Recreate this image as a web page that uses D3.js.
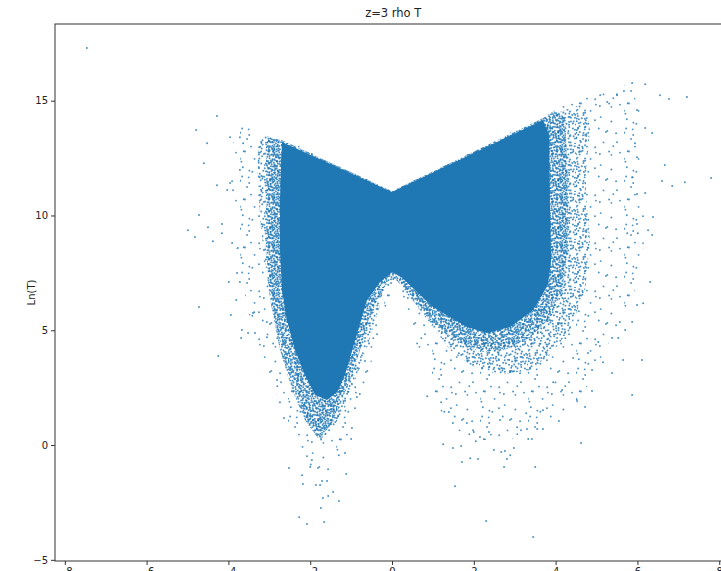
<!DOCTYPE html>
<html>
<head>
<meta charset="utf-8">
<script src="https://cdn.jsdelivr.net/npm/d3@7"></script>
<style>
  body { margin: 0; background: #fff; }
  text { font-family: "DejaVu Sans", sans-serif; }
</style>
</head>
<body>
<script>
// Axis extents and ticks
const xDomain = [-8.24, 8.3];
const yDomain = [-5.05, 18.34];
const xTicks = [-8, -6, -4, -2, 0, 2, 4, 6, 8];
const yTicks = [-5, 0, 5, 10, 15];

// Saturated core of the rho–T cloud (x = rho, y = Ln(T))
const coreOutline = [
  [-2.69, 13.20], [0, 11.02], [3.69, 14.16], [3.84, 13.50], [3.86, 10.67],
  [3.89, 8.06], [3.81, 6.97], [3.45, 5.88], [2.89, 5.14], [2.32, 4.88],
  [1.83, 5.14], [1.00, 6.01], [0.56, 6.75], [0.20, 7.36], [0, 7.53],
  [-0.29, 7.10], [-0.61, 6.32], [-0.78, 5.31], [-0.95, 4.27], [-1.15, 3.05],
  [-1.34, 2.31], [-1.59, 1.96], [-1.88, 2.18], [-2.13, 3.05], [-2.37, 4.14],
  [-2.57, 5.44], [-2.69, 6.75], [-2.74, 8.49], [-2.74, 10.67], [-2.71, 12.41]
];

// Heavily populated band hugging the core
const nearFringe = [
  [-3.03, 13.37], [-2.69, 13.28], [0, 11.06], [3.69, 14.24], [3.99, 14.59],
  [4.23, 14.24], [4.30, 11.54], [4.30, 8.49], [4.16, 6.75], [3.86, 5.53],
  [3.37, 4.66], [2.76, 4.14], [2.15, 4.05], [1.54, 4.57], [0.93, 5.44],
  [0.49, 6.32], [0.15, 7.10], [0, 7.36], [-0.10, 7.10], [-0.37, 6.32],
  [-0.59, 5.36], [-0.78, 4.14], [-0.98, 3.05], [-1.22, 1.96], [-1.47, 0.87],
  [-1.81, 0.30], [-2.13, 1.09], [-2.44, 2.40], [-2.74, 4.14], [-2.98, 6.32],
  [-3.08, 8.49], [-3.08, 11.54], [-3.08, 13.07]
];

// Densely populated fringe around the core
const denseFringe = [
  [-3.18, 13.50], [-2.69, 13.28], [0, 11.06], [3.69, 14.24], [4.23, 14.59],
  [4.72, 14.90], [4.84, 13.72], [4.72, 11.54], [4.84, 8.93], [4.72, 6.75],
  [4.35, 5.01], [3.86, 3.92], [3.37, 3.27], [2.64, 3.05], [1.91, 3.48],
  [1.42, 4.14], [1.05, 5.01], [0.68, 5.88], [0.32, 6.75], [0.07, 7.27],
  [-0.17, 6.75], [-0.37, 5.66], [-0.59, 4.36], [-0.86, 3.05], [-1.12, 1.74],
  [-1.39, 0.87], [-1.76, 0.22], [-2.05, 0.87], [-2.30, 2.18], [-2.54, 3.35],
  [-2.79, 4.79], [-2.98, 6.32], [-3.11, 8.06], [-3.23, 9.80], [-3.28, 11.54],
  [-3.28, 12.85]
];

// Thinly populated outer fringe
const sparseFringe = [
  [-3.72, 13.94], [-2.69, 13.37], [0, 11.06], [3.69, 14.33], [4.35, 15.03],
  [5.09, 15.55], [5.82, 15.68], [6.06, 14.59], [6.06, 11.98], [6.19, 9.36],
  [6.06, 7.19], [5.57, 5.44], [5.09, 3.70], [4.60, 1.96], [3.86, 0.87],
  [2.89, 0.22], [1.91, 0.22], [1.30, 1.09], [0.93, 2.40], [0.64, 4.14],
  [0.32, 5.88], [0.07, 6.97], [-0.10, 6.32], [-0.29, 5.01], [-0.49, 3.70],
  [-0.73, 2.18], [-1.03, 0.65], [-1.27, -0.65], [-1.64, -1.31], [-2.00, -1.09],
  [-2.30, 0], [-2.62, 1.31], [-2.93, 2.61], [-3.28, 4.14], [-3.52, 5.88],
  [-3.77, 8.06], [-3.91, 10.24], [-3.96, 12.41], [-3.84, 13.50]
];

// Isolated points outside the fringe
const strayX = [
  -7.46, -4.28, -4.79, -4.52, -4.60, -3.96, -3.72, -3.64, -3.72, -4.28,
  -3.96, -4.03, -4.72, -4.99, -4.82, -4.50, -4.38, -4.16, -4.16, -3.91,
  -3.77, -3.99, -3.79, -3.72, -4.72, -3.94, -3.81, -3.67, -3.52, -3.69,
  -4.25, -3.40, -3.06, -2.81,
  5.87, 6.19, 6.55, 6.77, 7.21, 5.67, 5.50, 5.09, 5.26, 5.99,
  6.19, 6.36, 5.94, 5.99, 6.67, 6.60, 6.85, 7.16, 7.80, 5.87,
  5.99, 6.19, 6.38, 5.99, 6.01, 6.36, 5.75, 6.26, 6.31, 6.14,
  5.99, 5.87, 5.57, 5.70, 5.38, 5.53, 6.11, 5.65, 5.16, 4.89,
  5.38, 5.87, 4.89, 4.16, 3.94, 4.43, 4.79, 5.04,
  1.54, 2.30, 3.45, 3.50, 2.74, 1.71, 1.91, 2.10, 1.25, 1.49,
  1.69, 2.49, 2.67, 2.76, 2.81, 2.89, 2.98, 3.33, 3.42, 4.62,
  4.72, 4.52, 4.08, 3.69, 3.55, 2.05, 2.15, 0.86, 1.20, 1.39,
  1.49, 1.83, 2.00, 2.37, 2.64, 3.06, 3.30, 3.69, 3.28,
  -2.27, -2.08, -1.66, -1.74, -1.30, -1.44, -1.56, -1.69, -1.86, -1.76,
  -1.71, -1.59, -2.18, -2.20, -2.52, -1.12, -1.15, -1.00, -0.98, -0.86,
  -0.66, -2.64, -2.74, -2.00, -1.96, -3.35, -3.37, -3.06
];
const strayY = [
  17.29, 14.33, 13.72, 13.15, 12.28, 13.41, 13.41, 13.15, 11.98, 11.32,
  11.41, 11.11, 10.02, 9.36, 9.06, 9.49, 8.88, 9.63, 9.23, 8.80,
  8.58, 7.10, 7.49, 7.10, 6.01, 5.66, 6.32, 5.01, 4.88, 4.66,
  3.88, 5.75, 4.70, 2.83,
  15.77, 15.72, 15.24, 15.07, 15.16, 15.42, 15.24, 15.24, 14.94, 14.59,
  13.81, 13.59, 13.15, 12.54, 12.20, 11.50, 11.28, 11.45, 11.63, 11.67,
  10.93, 10.98, 9.93, 9.63, 9.23, 9.15, 9.23, 9.36, 7.10, 6.18,
  6.10, 5.36, 5.36, 5.01, 4.66, 4.66, 3.70, 3.70, 3.61, 3.27,
  3.14, 2.18, 2.35, 2.40, 2.74, 3.79, 4.01, 4.49,
  -1.79, -3.31, -4.01, -0.96, -0.96, -0.74, -0.57, -0.61, 0.04, -0.13,
  -0.04, -0.22, -0.30, -0.26, -0.61, -0.44, -0.13, 0.26, 0.26, 0.09,
  1.66, 1.96, 1.05, 0.70, 0.70, 0.17, 0.35, 2.13, 1.87, 1.44,
  0.96, 0.96, 0.57, 0.57, 1.09, 0.78, 0.70, 1.52, 1.39,
  -3.14, -3.44, -3.35, -2.74, -2.44, -2.05, -2.22, -2.31, -1.74, -1.74,
  -1.57, -1.57, -1.70, -1.31, -1.00, -1.26, -0.35, 0.26, 0.74, 2.09,
  3.66, 1.18, 1.87, -0.96, -0.65, 4.88, 5.79, 5.36
];

const W = 721, H = 571;
const plotLeft = 55, plotTop = 24, plotBottom = 561, plotRight = 731.5;
const blue = "#1f77b4";

const svg = d3.select("body").append("svg")
  .attr("width", W).attr("height", H);

const x = d3.scaleLinear().domain(xDomain).range([plotLeft, plotRight]);
const y = d3.scaleLinear().domain(yDomain).range([plotBottom, plotTop]);

const defs = svg.append("defs");
defs.append("clipPath").attr("id", "plot-clip")
  .append("rect").attr("x", plotLeft).attr("y", plotTop)
  .attr("width", plotRight - plotLeft).attr("height", plotBottom - plotTop);

// Speckle texture: a jittered grid of small dots inside a repeating tile
const tile = 48;
function jitter(i, j, k) {
  const s = Math.sin(i * 127.1 + j * 311.7 + k * 74.7) * 43758.5453;
  return s - Math.floor(s);
}
function speckle(id, cell, keep, r, seed) {
  const n = Math.round(tile / cell);
  const dots = [];
  for (let i = 0; i < n; i++) {
    for (let j = 0; j < n; j++) {
      if (jitter(i, j, seed + 2) > keep) continue;
      dots.push([(i + jitter(i, j, seed)) * cell, (j + jitter(i, j, seed + 1)) * cell]);
    }
  }
  const p = defs.append("pattern").attr("id", id)
    .attr("patternUnits", "userSpaceOnUse")
    .attr("width", tile).attr("height", tile);
  p.selectAll("circle").data(dots).join("circle")
    .attr("cx", d => d[0]).attr("cy", d => d[1]).attr("r", r)
    .attr("fill", blue).attr("fill-opacity", 0.8);
}
speckle("speckle-near", 2.4, 1.0, 1.0, 1);
speckle("speckle-dense", 3, 0.75, 1.0, 5);
speckle("speckle-sparse", 4, 0.28, 0.95, 9);

const plot = svg.append("g").attr("clip-path", "url(#plot-clip)");
const outline = d3.line().x(d => x(d[0])).y(d => y(d[1])).curve(d3.curveLinearClosed);

plot.append("path").datum(sparseFringe).attr("d", outline)
  .attr("fill", "url(#speckle-sparse)");
plot.append("path").datum(denseFringe).attr("d", outline)
  .attr("fill", "url(#speckle-dense)");
plot.append("path").datum(nearFringe).attr("d", outline)
  .attr("fill", "url(#speckle-near)");
plot.append("path").datum(coreOutline).attr("d", outline)
  .attr("fill", blue);

plot.selectAll("circle.stray").data(strayX.map((v, i) => [v, strayY[i]]))
  .join("circle").attr("class", "stray")
  .attr("cx", d => x(d[0])).attr("cy", d => y(d[1])).attr("r", 1)
  .attr("fill", blue).attr("fill-opacity", 0.8);

// Axes
const axisColor = "#333";
const gx = svg.append("g").attr("transform", `translate(0,${plotBottom})`)
  .call(d3.axisBottom(x).tickValues(xTicks).tickSize(4).tickPadding(3));
const gy = svg.append("g").attr("transform", `translate(${plotLeft},0)`)
  .call(d3.axisLeft(y).tickValues(yTicks).tickSize(4).tickPadding(3));
[gx, gy].forEach(g => {
  g.select(".domain").remove();
  g.selectAll("line").attr("stroke", axisColor);
  g.selectAll("text").attr("fill", "#222").style("font-size", "10px")
    .style("font-family", "'DejaVu Sans', sans-serif");
});

svg.append("rect").attr("x", plotLeft).attr("y", plotTop)
  .attr("width", plotRight - plotLeft).attr("height", plotBottom - plotTop)
  .attr("fill", "none").attr("stroke", axisColor).attr("stroke-width", 1);

svg.append("text").attr("x", (plotLeft + plotRight) / 2).attr("y", 17)
  .attr("text-anchor", "middle").style("font-size", "11.5px").attr("fill", "#222")
  .text("z=3 rho T");

svg.append("text")
  .attr("transform", `translate(35,${(plotTop + plotBottom) / 2}) rotate(-90)`)
  .attr("text-anchor", "middle").style("font-size", "10px").attr("fill", "#222")
  .text("Ln(T)");
</script>
</body>
</html>
